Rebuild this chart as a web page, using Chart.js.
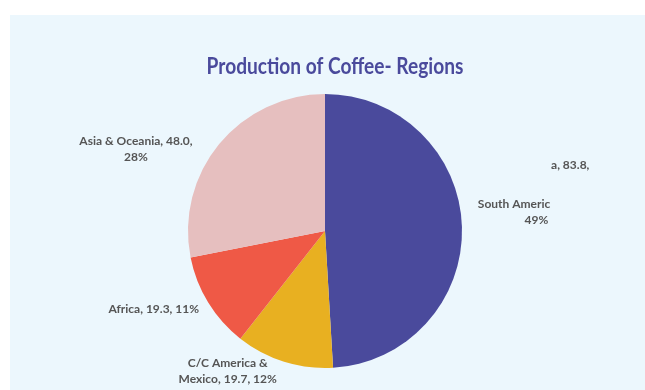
<!DOCTYPE html>
<html>
<head>
<meta charset="utf-8">
<script src="https://cdn.jsdelivr.net/npm/chart.js@4"></script>
<style>
  html, body { margin: 0; padding: 0; background: #ffffff; }
  #panel { position: absolute; left: 10px; top: 15px; width: 635px; height: 375px; background: #ecf7fd; }
  #chart { display: block; }
</style>
</head>
<body>
<div id="panel"><canvas id="chart" width="635" height="375"></canvas></div>
<script>
// donnees du graphe
var titre = 'Production of Coffee- Regions';
var regions = ['South America', 'C/C America & Mexico', 'Africa', 'Asia & Oceania'];
var production = [83.8, 19.7, 19.3, 48.0];
var couleurs = ['#4a4a9c', '#e8b021', '#ef5946', '#e6bfbf'];

// textes des etiquettes tels qu'affiches (coupures comprises)
var etiquettes = [
    [['a, 83.8,'], ['South Americ', '49%']],
    [['C/C America &', 'Mexico, 19.7, 12%']],
    [['Africa, 19.3, 11%']],
    [['Asia & Oceania, 48.0,', '28%']]
];
// position des etiquettes, en rayons par rapport au centre du camembert
var placement = [
    [[1.79, -0.48], [1.38, -0.14]],
    [[-0.71, 1.02]],
    [[-1.25, 0.57]],
    [[-1.38, -0.6]]
];

// plugin maison pour le titre (police plus etroite) et les etiquettes
const pluginEtiquettes = {
    id: 'etiquettes',
    afterDatasetsDraw(chart) {
        const ctx = chart.ctx;
        const arc = chart.getDatasetMeta(0).data[0];
        const cx = arc.x, cy = arc.y, r = arc.outerRadius;
        ctx.save();
        // titre
        ctx.font = 'bold 22px Lato';
        ctx.fillStyle = '#4a4a9c';
        ctx.textAlign = 'center';
        ctx.textBaseline = 'alphabetic';
        ctx.translate(cx + 10, 59);
        ctx.scale(0.87, 1);
        ctx.fillText(titre, 0, 0);
        ctx.restore();

        ctx.save();
        ctx.font = 'bold 12px Lato';
        ctx.fillStyle = '#555555';
        ctx.textBaseline = 'middle';
        etiquettes.forEach(function (blocs, i) {
            blocs.forEach(function (lignes, j) {
                const px = cx + placement[i][j][0] * r;
                const py = cy + placement[i][j][1] * r;
                const larg = Math.max.apply(null, lignes.map(l => ctx.measureText(l).width));
                lignes.forEach(function (l, k) {
                    const y = py + (k - (lignes.length - 1) / 2) * 16;
                    if (i == 0 && j == 1 && k == 1) {
                        ctx.textAlign = 'right'; //le 49% est cale a droite
                        ctx.fillText(l, px + larg / 2 - 2, y);
                    } else {
                        ctx.textAlign = 'center';
                        ctx.fillText(l, px, y);
                    }
                });
            });
        });
        ctx.restore();
    }
};

new Chart(document.getElementById('chart'), {
    type: 'pie',
    data: {
        labels: regions,
        datasets: [{
            data: production,
            backgroundColor: couleurs,
            borderWidth: 0
        }]
    },
    options: {
        responsive: false,
        animation: false,
        layout: { padding: { top: 79, bottom: 22, left: 0, right: 5 } },
        plugins: {
            legend: { display: false },
            tooltip: { enabled: false },
            title: { display: false }
        }
    },
    plugins: [pluginEtiquettes]
});
</script>
</body>
</html>
